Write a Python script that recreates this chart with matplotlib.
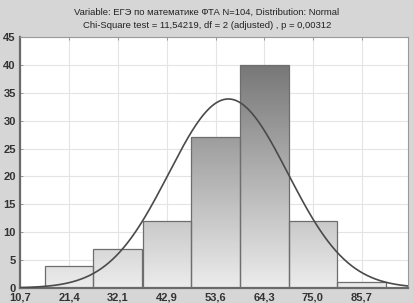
import numpy as np
import matplotlib
matplotlib.use("Agg")
import matplotlib.pyplot as plt
from matplotlib.colors import LinearSegmentedColormap

# Data
bin_centers = [10.7, 21.4, 32.1, 42.9, 53.6, 64.3, 75.0, 85.7, 96.4]
counts = [0, 4, 7, 12, 27, 40, 12, 1, 0]
tick_labels = ["10,7", "21,4", "32,1", "42,9", "53,6", "64,3", "75,0", "85,7"]
bin_width = 10.7
n_obs = 104
fit_mean = 56.4
fit_sd = 13.1
title_lines = ["Variable: ЕГЭ по математике ФТА N=104, Distribution: Normal",
               "Chi-Square test = 11,54219, df = 2 (adjusted) , p = 0,00312"]

plt.rcParams['font.family'] = ['Liberation Sans', 'DejaVu Sans']

fig = plt.figure(figsize=(4.14, 3.03), dpi=100)
fig.patch.set_facecolor('#d6d6d6')
ax = fig.add_axes([20/414, 15/303, 388/414, 251/303])
ax.set_facecolor('white')

xlim = (10.6, 95.9)
ax.set_xlim(*xlim)
ax.set_ylim(0, 45)

ax.set_xticks(bin_centers[:8])
ax.set_xticklabels(tick_labels)
ax.set_yticks(np.arange(0, 46, 5))
ax.grid(True, color='#e4e4e4', linewidth=0.8)
ax.set_axisbelow(True)

cmap = LinearSegmentedColormap.from_list('g', ['#ececec', '#777777'])
bars = ax.bar(bin_centers, counts, width=bin_width, color='none',
              edgecolor='#6e6e6e', linewidth=0.9, zorder=3)
grad = np.linspace(0, 45, 256).reshape(-1, 1)
for b, c in zip(bars, counts):
    if c <= 0:
        continue
    x0 = b.get_x()
    im = ax.imshow(grad, extent=[x0, x0 + bin_width, 0, 45], origin='lower',
                   cmap=cmap, vmin=0, vmax=40, aspect='auto', zorder=2)
    im.set_clip_path(b)

xs = np.linspace(xlim[0], xlim[1], 400)
ys = n_obs * bin_width / (fit_sd * np.sqrt(2 * np.pi)) * np.exp(-0.5 * ((xs - fit_mean) / fit_sd) ** 2)
ax.plot(xs, ys, color='#4a4a4a', linewidth=1.2, zorder=4)

ax.set_xlim(*xlim)
ax.set_ylim(0, 45)

for s in ['left', 'bottom']:
    ax.spines[s].set_color('#6a6a6a')
    ax.spines[s].set_linewidth(1.6)
for s in ['top', 'right']:
    ax.spines[s].set_color('#9a9a9a')
    ax.spines[s].set_linewidth(0.8)

ax.tick_params(axis='both', direction='in', length=2, width=0.6, color='#888888',
               labelsize=8, top=True)
ax.tick_params(axis='x', pad=3.5)
ax.tick_params(axis='y', pad=3)
for lab in ax.get_xticklabels() + ax.get_yticklabels():
    lab.set_fontweight('bold')
    lab.set_color('#333333')

fig.text(0.5, 1 - 12/303, title_lines[0], ha='center', va='center', fontsize=6.8, color='#222222')
fig.text(0.5, 1 - 25/303, title_lines[1], ha='center', va='center', fontsize=6.8, color='#222222')

fig.savefig('out.png', dpi=100, facecolor=fig.get_facecolor())
